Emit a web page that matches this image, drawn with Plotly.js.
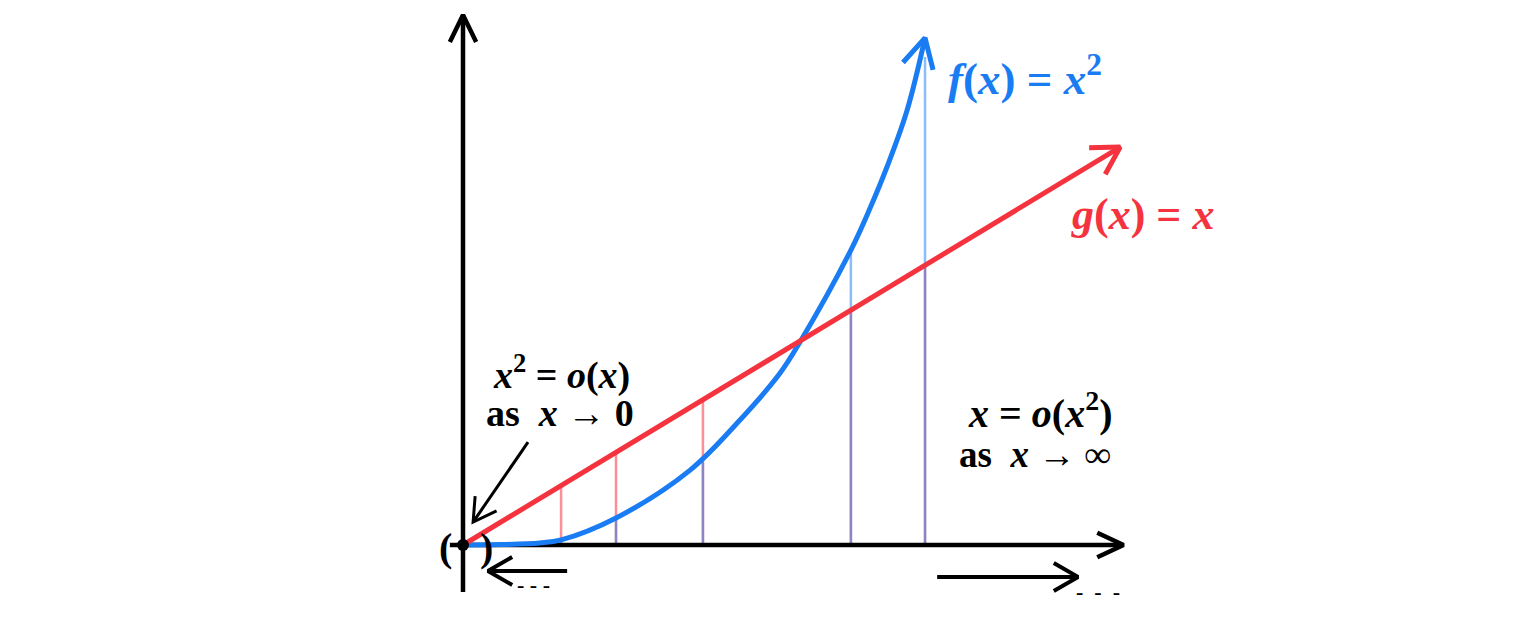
<!DOCTYPE html>
<html>
<head>
<meta charset="utf-8">
<script src="https://cdn.plot.ly/plotly-3.0.1.min.js"></script>
<style>html,body{margin:0;padding:0;background:#fff;}#chart{width:1536px;height:632px;}</style>
</head>
<body>
<div id="chart"></div>
<script>
// ---- data (math units) ----
// f(x) curve
const fX = [0, 0.110, 0.228, 0.291, 0.454, 0.674, 0.822, 0.941, 1.000, 1.151, 1.208, 1.258, 1.318, 1.371];
const fY = [0, 0.002, 0.010, 0.025, 0.133, 0.369, 0.616, 0.847, 1.000, 1.453, 1.660, 1.862, 2.143, 2.498];
// g(x) = x line
const gX = [0, 1.950];
const gY = [0, 1.960];
// sample verticals
const sampleX = [0.291, 0.454, 0.712, 1.151, 1.371];
const sampleG = [0.291, 0.454, 0.712, 1.151, 1.371];
const sampleF = [0.025, 0.133, 0.409, 1.463, 2.404];
// axes extents
const xAxisX = [-0.039, 1.950];
const yAxisY = [-0.232, 2.611];
// side arrows (tail, tip)
const leftArrow = [[0.309, -0.128], [0.074, -0.128]];
const rightArrow = [[1.407, -0.158], [1.825, -0.158]];
const noteArrow = [[0.193, 0.507], [0.030, 0.113]];
// labels
const labelF = "<i>f</i>(<i>x</i>) = <i>x</i><sup>2</sup>";
const labelG = "<i>g</i>(<i>x</i>) = <i>x</i>";
const noteLeft1 = "<i>x</i><sup>2</sup> = <i>o</i>(<i>x</i>)";
const noteLeft2 = "as  <i>x</i> → 0";
const noteRight1 = "<i>x</i> = <i>o</i>(<i>x</i><sup>2</sup>)";
const noteRight2 = "as  <i>x</i> → ∞";

// ---- geometry helpers ----
const PXU = 337, PYU = 203; // pixels per unit
const XR = [-463 / PXU, (1536 - 463) / PXU];
const YR = [(545 - 632) / PYU, 545 / PYU];
function head(tip, from, len, ang) {
  const dx = (tip[0] - from[0]) * PXU, dy = (tip[1] - from[1]) * PYU;
  const d = Math.hypot(dx, dy), ux = dx / d, uy = dy / d;
  const a = ang * Math.PI / 180;
  const arm = s => {
    const c = Math.cos(s * a), sn = Math.sin(s * a);
    const bx = -(ux * c - uy * sn), by = -(ux * sn + uy * c);
    return [tip[0] + bx * len / PXU, tip[1] + by * len / PYU];
  };
  const A = arm(1), B = arm(-1);
  return {x: [A[0], tip[0], B[0]], y: [A[1], tip[1], B[1]]};
}

const RED = '#f5333f', BLUE = '#1a7cf2', BLACK = '#000';
const traces = [];
// verticals
const vr = {x: [], y: []}, vb = {x: [], y: []};
sampleX.forEach((x, i) => {
  vr.x.push(x, x, null); vr.y.push(0, sampleG[i], null);
  vb.x.push(x, x, null); vb.y.push(0, sampleF[i], null);
});
traces.push({x: vr.x, y: vr.y, mode: 'lines', line: {color: 'rgba(245,51,63,0.55)', width: 2.5}});
traces.push({x: vb.x, y: vb.y, mode: 'lines', line: {color: 'rgba(26,124,242,0.5)', width: 2.5}});
// axes
const blk = {color: BLACK, width: 4.5};
traces.push({x: xAxisX, y: [0, 0], mode: 'lines', line: blk});
traces.push({x: [0, 0], y: yAxisY, mode: 'lines', line: blk});
const hx = head([xAxisX[1] + 0.01, 0], [0, 0], 29, 25);
traces.push({x: hx.x, y: hx.y, mode: 'lines', line: blk});
const hy = head([0, yAxisY[1]], [0, 0], 30, 26);
traces.push({x: hy.x, y: hy.y, mode: 'lines', line: blk});
// side arrows
[leftArrow, rightArrow, noteArrow].forEach((ar, k) => {
  const w = k === 2 ? 3 : 4;
  traces.push({x: [ar[0][0], ar[1][0]], y: [ar[0][1], ar[1][1]], mode: 'lines', line: {color: BLACK, width: w}});
  const h = head(ar[1], ar[0], k === 2 ? 26 : 28, 30);
  traces.push({x: h.x, y: h.y, mode: 'lines', line: {color: BLACK, width: w}});
});
// blue curve
traces.push({x: fX, y: fY, mode: 'lines', line: {color: BLUE, width: 5, shape: 'spline', smoothing: 1}});
const n = fX.length;
const hb = head([fX[n - 1], fY[n - 1]], [fX[n - 2], fY[n - 2]], 33, 28);
traces.push({x: hb.x, y: hb.y, mode: 'lines', line: {color: BLUE, width: 5}});
// red line
traces.push({x: gX, y: gY, mode: 'lines', line: {color: RED, width: 5}});
const hr = head([gX[1], gY[1]], [gX[0], gY[0]], 31, 30);
traces.push({x: hr.x, y: hr.y, mode: 'lines', line: {color: RED, width: 5}});
// origin dot
traces.push({x: [0], y: [0], mode: 'markers', marker: {color: BLACK, size: 12}});

const FONT = 'Liberation Serif';
function ann(x, y, text, color, size) {
  return {x: x, y: y, xref: 'x', yref: 'y', text: text, showarrow: false,
    font: {family: FONT, size: size, color: color, weight: 'bold'}, xanchor: 'center', yanchor: 'middle'};
}
const annotations = [
  ann(1.668, 2.315, labelF, BLUE, 45),
  ann(2.015, 1.626, labelG, RED, 44),
  ann(0.291, 0.852, noteLeft1, BLACK, 38),
  ann(0.288, 0.650, noteLeft2, BLACK, 38),
  ann(1.712, 0.665, noteRight1, BLACK, 40),
  ann(1.697, 0.448, noteRight2, BLACK, 37),
  ann(-0.053, -0.010, '(', BLACK, 40),
  ann(0.071, -0.010, ')', BLACK, 40),
  ann(0.208, -0.197, '- - -', BLACK, 22),
  ann(1.884, -0.227, '-  -  -', BLACK, 22)
];

const layout = {
  width: 1536, height: 632, margin: {l: 0, r: 0, t: 0, b: 0},
  paper_bgcolor: '#fff', plot_bgcolor: '#fff', showlegend: false,
  xaxis: {range: XR, visible: false, fixedrange: true},
  yaxis: {range: YR, visible: false, fixedrange: true},
  annotations: annotations
};
Plotly.newPlot('chart', traces.map(t => Object.assign({type: 'scatter', hoverinfo: 'skip'}, t)), layout, {displayModeBar: false, staticPlot: true});
</script>
</body>
</html>
